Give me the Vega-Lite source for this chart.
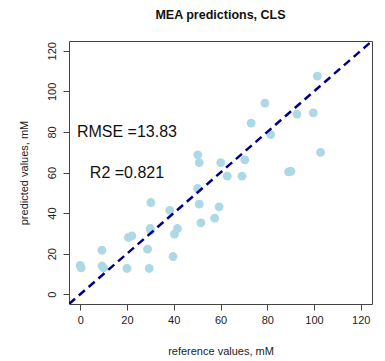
{
  "$schema": "https://vega.github.io/schema/vega-lite/v6.json",
  "autosize": "none",
  "width": 303,
  "height": 263,
  "padding": {"left": 69, "top": 41, "right": 13, "bottom": 57},
  "background": "white",
  "config": {
    "font": "Liberation Sans",
    "view": {"stroke": "#444", "strokeWidth": 1},
    "axis": {"grid": false, "domain": false, "tickColor": "#444", "tickSize": 6, "labelFont": "Liberation Sans", "labelFontSize": 11, "labelColor": "#222", "titleFont": "Liberation Sans", "titleFontWeight": "normal", "titleFontSize": 11, "titleColor": "#222"}
  },
  "title": {"text": "MEA predictions, CLS", "fontSize": 12.5, "fontWeight": "bold", "color": "#111", "anchor": "middle", "offset": 20, "font": "Liberation Sans"},
  "layer": [
    {
      "data": {"values": [
        {"ref": 0, "pred": 14.2}, {"ref": 0.4, "pred": 13.0},
        {"ref": 9.3, "pred": 21.7}, {"ref": 9.3, "pred": 14.0}, {"ref": 10.0, "pred": 13.0},
        {"ref": 20.0, "pred": 12.7}, {"ref": 20.6, "pred": 28.0}, {"ref": 22.1, "pred": 28.8},
        {"ref": 28.8, "pred": 22.2}, {"ref": 29.5, "pred": 12.7}, {"ref": 30.2, "pred": 45.2},
        {"ref": 29.9, "pred": 32.4}, {"ref": 30.2, "pred": 31.4},
        {"ref": 38.3, "pred": 41.3}, {"ref": 39.7, "pred": 18.6}, {"ref": 40.3, "pred": 29.6}, {"ref": 41.6, "pred": 32.4},
        {"ref": 50.3, "pred": 68.7}, {"ref": 50.9, "pred": 64.9}, {"ref": 50.2, "pred": 52.1}, {"ref": 50.9, "pred": 44.4}, {"ref": 51.6, "pred": 35.2},
        {"ref": 57.5, "pred": 37.5}, {"ref": 59.4, "pred": 43.1}, {"ref": 60.1, "pred": 64.9},
        {"ref": 62.9, "pred": 58.2}, {"ref": 69.2, "pred": 58.2}, {"ref": 70.4, "pred": 66.2},
        {"ref": 73.1, "pred": 84.3}, {"ref": 79.0, "pred": 94.2}, {"ref": 81.5, "pred": 78.7},
        {"ref": 89.1, "pred": 60.3}, {"ref": 90.1, "pred": 60.6}, {"ref": 92.7, "pred": 88.8},
        {"ref": 99.7, "pred": 89.4}, {"ref": 101.4, "pred": 107.5}, {"ref": 102.8, "pred": 69.9}
      ]},
      "mark": {"type": "circle", "size": 78, "color": "#ADD8E6", "opacity": 1},
      "encoding": {
        "x": {"field": "ref", "type": "quantitative", "scale": {"domain": [-4.8, 124.8], "nice": false, "zero": false},
              "axis": {"values": [0, 20, 40, 60, 80, 100, 120], "title": "reference values, mM", "labelPadding": 4, "titlePadding": 20}},
        "y": {"field": "pred", "type": "quantitative", "scale": {"domain": [-4.8, 124.8], "nice": false, "zero": false},
              "axis": {"values": [0, 20, 40, 60, 80, 100, 120], "title": "predicted values, mM", "labelAngle": -90, "labelAlign": "center", "labelBaseline": "bottom", "labelPadding": 6, "titlePadding": 17}}
      }
    },
    {
      "data": {"values": [{"ref": -4.8, "pred": -4.8}, {"ref": 124.8, "pred": 124.8}]},
      "mark": {"type": "line", "color": "#00008B", "strokeWidth": 2.5, "strokeDash": [8, 5], "clip": true},
      "encoding": {
        "x": {"field": "ref", "type": "quantitative"},
        "y": {"field": "pred", "type": "quantitative"}
      }
    },
    {
      "data": {"values": [{"ref": 20, "pred": 80, "label": "RMSE =13.83"}, {"ref": 20, "pred": 60, "label": "R2 =0.821"}]},
      "mark": {"type": "text", "fontSize": 16, "color": "#111", "align": "center", "baseline": "middle", "font": "Liberation Sans"},
      "encoding": {
        "x": {"field": "ref", "type": "quantitative"},
        "y": {"field": "pred", "type": "quantitative"},
        "text": {"field": "label"}
      }
    }
  ]
}
